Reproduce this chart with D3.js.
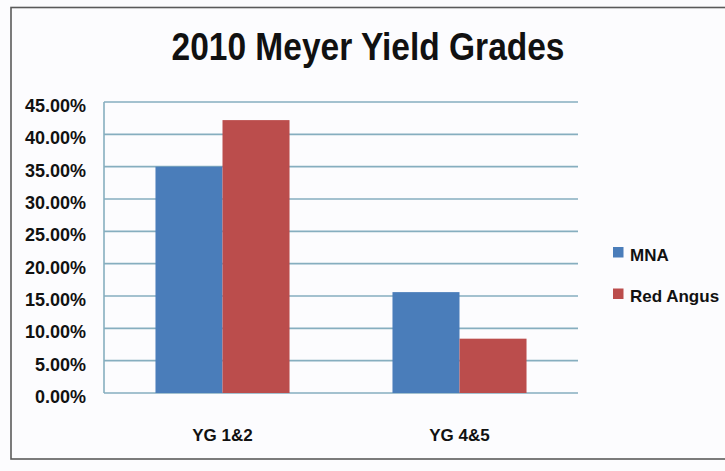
<!DOCTYPE html>
<html>
<head>
<meta charset="utf-8">
<script src="https://cdn.jsdelivr.net/npm/d3@7"></script>
<style>
  html, body { margin: 0; padding: 0; background: #fcfcfe; }
  svg { display: block; }
  text { font-family: "Liberation Sans", Arial, sans-serif; font-weight: bold; fill: #111; }
</style>
</head>
<body>
<script>
const categories = ["YG 1&2", "YG 4&5"];
const seriesNames = ["MNA", "Red Angus"];
const mnaValues = [0.350, 0.156];
const redAngusValues = [0.422, 0.084];
const yTicks = [0, 0.05, 0.10, 0.15, 0.20, 0.25, 0.30, 0.35, 0.40, 0.45];
const seriesColors = ["#4a7dba", "#bb4d4c"];
const titleText = "2010 Meyer Yield Grades";

const W = 725, H = 471;
const svg = d3.select("body").append("svg").attr("width", W).attr("height", H);

svg.append("rect").attr("width", W).attr("height", H).attr("fill", "#fcfcfe");
// outer frame
svg.append("rect").attr("x", 11).attr("y", 7.5).attr("width", 730).attr("height", 451.5)
  .attr("fill", "none").attr("stroke", "#5a5a5a").attr("stroke-width", 1.6);

const plot = { left: 104, right: 578, top: 102, bottom: 393 };

const y = d3.scaleLinear().domain([0, 0.45]).range([plot.bottom, plot.top]);
const x0 = d3.scaleBand().domain(categories).range([plot.left, plot.right]).padding(0);
const x1 = d3.scaleBand().domain(seriesNames).range([0, x0.bandwidth()])
  .paddingInner(0).paddingOuter(0.768);

// gridlines
const gridColor = "#86aebf";
svg.append("g").selectAll("line").data(yTicks).join("line")
  .attr("x1", plot.left).attr("x2", plot.right)
  .attr("y1", d => y(d)).attr("y2", d => y(d))
  .attr("stroke", gridColor).attr("stroke-width", 1.6);
svg.append("line").attr("x1", plot.left).attr("x2", plot.left)
  .attr("y1", plot.top).attr("y2", plot.bottom)
  .attr("stroke", gridColor).attr("stroke-width", 1.6);

// y axis labels
const yAxis = d3.axisLeft(y).tickValues(yTicks).tickFormat(d3.format(".2%")).tickSize(0).tickPadding(0);
const yg = svg.append("g").attr("transform", `translate(86,0)`).call(yAxis);
yg.select(".domain").remove();
yg.selectAll("text").attr("font-size", 18).attr("font-family", "Liberation Sans, Arial, sans-serif")
  .attr("font-weight", "bold").attr("fill", "#111").attr("dy", "0.52em");

// bars
const rows = categories.map((c, i) => ({ cat: c, vals: [mnaValues[i], redAngusValues[i]] }));
const groups = svg.append("g").selectAll("g").data(rows).join("g")
  .attr("transform", d => `translate(${x0(d.cat)},0)`);
groups.selectAll("rect").data(d => d.vals.map((v, j) => ({ s: seriesNames[j], v, j })))
  .join("rect")
  .attr("x", d => x1(d.s)).attr("width", x1.bandwidth())
  .attr("y", d => y(d.v)).attr("height", d => y(0) - y(d.v))
  .attr("fill", d => seriesColors[d.j]);

// x axis labels
const xAxis = d3.axisBottom(x0).tickSize(0).tickPadding(0);
const xg = svg.append("g").attr("transform", `translate(0,${plot.bottom + 36})`).call(xAxis);
xg.select(".domain").remove();
xg.selectAll("text").attr("font-size", 17).attr("font-family", "Liberation Sans, Arial, sans-serif")
  .attr("font-weight", "bold").attr("fill", "#111");

// title
svg.append("text").attr("x", 368).attr("y", 60).attr("text-anchor", "middle")
  .attr("font-size", 39).attr("textLength", 393).attr("lengthAdjust", "spacingAndGlyphs")
  .style("font-family", "'Liberation Sans Narrow', 'Liberation Sans', Arial, sans-serif")
  .text(titleText);

// legend
const legend = svg.append("g").selectAll("g").data(seriesNames).join("g")
  .attr("transform", (d, i) => `translate(613,${247 + i * 41.5})`);
legend.append("rect").attr("width", 10.5).attr("height", 10.5).attr("fill", (d, i) => seriesColors[i]);
legend.append("text").attr("x", 17).attr("y", 13.5).attr("font-size", 17).text(d => d);
</script>
</body>
</html>
